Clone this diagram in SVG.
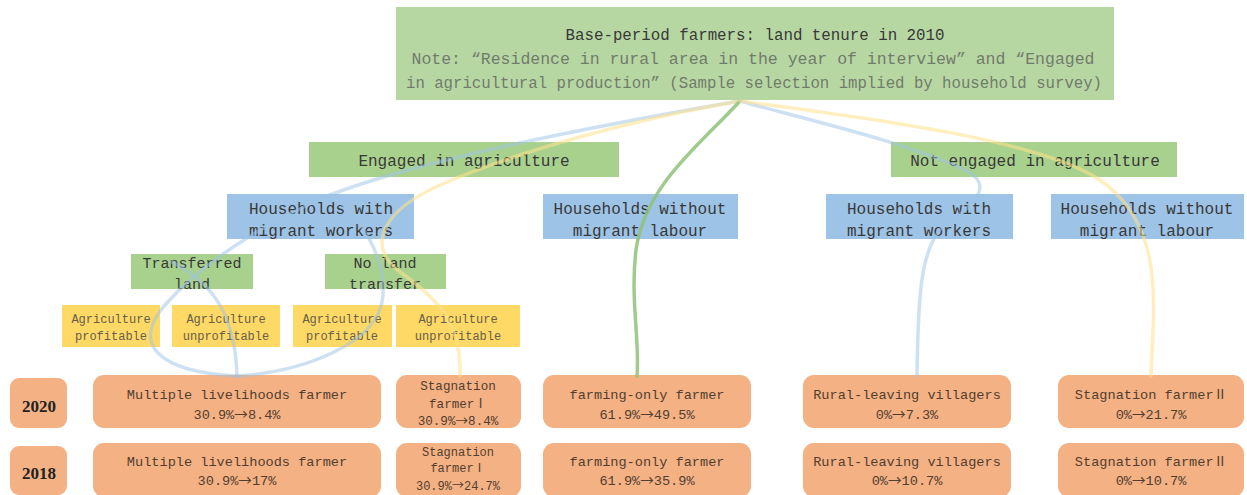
<svg xmlns="http://www.w3.org/2000/svg" width="1247" height="495" viewBox="0 0 1247 495">
<style>
text{font-family:'Liberation Mono','Noto Sans CJK SC',monospace;text-anchor:middle;fill:#383838}
.g0{fill:#b7d7a2}
.g{fill:#a9d18e}
.b{fill:#9dc3e6}
.y{fill:#ffd966}
.o{fill:#f4b183}
.f16{font-size:16px}
.f15{font-size:15px}
.f12{font-size:12px;fill:#66604a}
.f14{font-size:13.6px;fill:#523e30}
.f13{font-size:12.6px;fill:#523e30}
.f11{font-size:12px;fill:#523e30}
.ar{font-family:'Noto Sans CJK SC',sans-serif}
.note{font-size:16px;fill:#717b6c}
.yr{font-family:'Liberation Serif',serif;font-size:17px;font-weight:bold;fill:#222}
.c{fill:none;stroke-linecap:round}
.cb{stroke:#9dc3e6;stroke-width:3.5;opacity:.5}
.cy{stroke:#ffe28a;stroke-width:3.5;opacity:.55}
.cg{stroke:#8fc27a;stroke-width:3.5;opacity:.85}
</style>
<rect width="1247" height="495" fill="#ffffff"/>
<g id="root">
<rect class="g0" x="396" y="7" width="718" height="93"/>
<text class="f16" x="755" y="40" textLength="379" lengthAdjust="spacingAndGlyphs">Base-period farmers: land tenure in 2010</text>
<text class="note" x="753" y="64" textLength="683" lengthAdjust="spacingAndGlyphs">Note: “Residence in rural area in the year of interview” and “Engaged</text>
<text class="note" x="754" y="88" textLength="696" lengthAdjust="spacingAndGlyphs">in agricultural production” (Sample selection implied by household survey)</text>
</g>
<g id="engaged">
<rect class="g" x="309" y="142" width="310" height="35"/>
<text class="f16" x="464" y="166">Engaged in agriculture</text>
</g>
<g id="not-engaged">
<rect class="g" x="891" y="142" width="286" height="35"/>
<text class="f16" x="1035" y="166">Not engaged in agriculture</text>
</g>
<g id="hh-with-1">
<rect class="b" x="227" y="194" width="187" height="45"/>
<text class="f16" x="321" y="214">Households with</text>
<text class="f16" x="321" y="236">migrant workers</text>
</g>
<g id="hh-without-1">
<rect class="b" x="543" y="194" width="195" height="45"/>
<text class="f16" x="640" y="214">Households without</text>
<text class="f16" x="640" y="236">migrant labour</text>
</g>
<g id="hh-with-2">
<rect class="b" x="826" y="194" width="187" height="45"/>
<text class="f16" x="919" y="214">Households with</text>
<text class="f16" x="919" y="236">migrant workers</text>
</g>
<g id="hh-without-2">
<rect class="b" x="1051" y="194" width="193" height="45"/>
<text class="f16" x="1147" y="214">Households without</text>
<text class="f16" x="1147" y="236">migrant labour</text>
</g>
<g id="transferred">
<rect class="g" x="131" y="254" width="122" height="35"/>
<text class="f15" x="192" y="268">Transferred</text>
<text class="f15" x="192" y="289">land</text>
</g>
<g id="no-transfer">
<rect class="g" x="325" y="254" width="121" height="35"/>
<text class="f15" x="385" y="268">No land</text>
<text class="f15" x="385" y="289">transfer</text>
</g>
<g id="ap1">
<rect class="y" x="62" y="305" width="98" height="42"/>
<text class="f12" x="111" y="323">Agriculture</text>
<text class="f12" x="111" y="340">profitable</text>
</g>
<g id="au1">
<rect class="y" x="172" y="305" width="108" height="42"/>
<text class="f12" x="226" y="323">Agriculture</text>
<text class="f12" x="226" y="340">unprofitable</text>
</g>
<g id="ap2">
<rect class="y" x="293" y="305" width="99" height="42"/>
<text class="f12" x="342" y="323">Agriculture</text>
<text class="f12" x="342" y="340">profitable</text>
</g>
<g id="au2">
<rect class="y" x="396" y="305" width="124" height="42"/>
<text class="f12" x="458" y="323">Agriculture</text>
<text class="f12" x="458" y="340">unprofitable</text>
</g>
<g id="y2020">
<rect class="o" x="10" y="378" width="57" height="50" rx="9"/>
<text class="yr" x="39" y="412">2020</text>
</g>
<g id="y2018">
<rect class="o" x="10" y="446" width="57" height="49" rx="9"/>
<text class="yr" x="39" y="479">2018</text>
</g>
<g id="multi-2020">
<rect class="o" x="93" y="375" width="288" height="53" rx="11"/>
<text class="f14" x="237" y="399">Multiple livelihoods farmer</text>
<text class="f14" x="237" y="419">30.9%<tspan class="ar">→</tspan>8.4%</text>
</g>
<g id="stag1-2020">
<rect class="o" x="396" y="375" width="125" height="53" rx="11"/>
<text class="f13" x="458" y="390">Stagnation</text>
<text class="f13" x="458" y="408">farmerⅠ</text>
<text class="f13" x="458" y="425">30.9%<tspan class="ar">→</tspan>8.4%</text>
</g>
<g id="farm-2020">
<rect class="o" x="543" y="375" width="208" height="53" rx="11"/>
<text class="f14" x="647" y="399">farming-only farmer</text>
<text class="f14" x="647" y="419">61.9%<tspan class="ar">→</tspan>49.5%</text>
</g>
<g id="rural-2020">
<rect class="o" x="803" y="375" width="208" height="53" rx="11"/>
<text class="f14" x="907" y="399">Rural-leaving villagers</text>
<text class="f14" x="907" y="419">0%<tspan class="ar">→</tspan>7.3%</text>
</g>
<g id="stag2-2020">
<rect class="o" x="1058" y="375" width="186" height="53" rx="11"/>
<text class="f14" x="1151" y="399">Stagnation farmerⅡ</text>
<text class="f14" x="1151" y="419">0%<tspan class="ar">→</tspan>21.7%</text>
</g>
<g id="multi-2018">
<rect class="o" x="93" y="443" width="288" height="54" rx="11"/>
<text class="f14" x="237" y="466">Multiple livelihoods farmer</text>
<text class="f14" x="237" y="485">30.9%<tspan class="ar">→</tspan>17%</text>
</g>
<g id="stag1-2018">
<rect class="o" x="396" y="443" width="125" height="54" rx="11"/>
<text class="f11" x="458" y="456">Stagnation</text>
<text class="f11" x="458" y="472">farmerⅠ</text>
<text class="f11" x="458" y="490">30.9%<tspan class="ar">→</tspan>24.7%</text>
</g>
<g id="farm-2018">
<rect class="o" x="543" y="443" width="208" height="54" rx="11"/>
<text class="f14" x="647" y="466">farming-only farmer</text>
<text class="f14" x="647" y="485">61.9%<tspan class="ar">→</tspan>35.9%</text>
</g>
<g id="rural-2018">
<rect class="o" x="803" y="443" width="208" height="54" rx="11"/>
<text class="f14" x="907" y="466">Rural-leaving villagers</text>
<text class="f14" x="907" y="485">0%<tspan class="ar">→</tspan>10.7%</text>
</g>
<g id="stag2-2018">
<rect class="o" x="1058" y="443" width="186" height="54" rx="11"/>
<text class="f14" x="1151" y="466">Stagnation farmerⅡ</text>
<text class="f14" x="1151" y="485">0%<tspan class="ar">→</tspan>10.7%</text>
</g>
<g id="connectors">
<path class="c cb" d="M740,101 C600,125 420,160 330,195 C260,225 200,265 165,305 C130,345 160,372 237,376"/>
<path class="c cb" d="M330,195 C360,215 385,255 383,295 C380,345 300,372 237,376"/>
<path class="c cb" d="M172,262 C205,280 235,305 237,376"/>
<path class="c cy" d="M740,101 C640,118 520,150 440,185 C380,212 370,245 395,268 C430,295 462,315 460,376"/>
<path class="c cg" d="M740,101 C700,145 645,185 636,250 C630,300 640,340 637,376"/>
<path class="c cb" d="M740,101 C800,118 900,140 965,170 C995,185 975,205 945,225 C920,245 918,300 917,376"/>
<path class="c cy" d="M740,101 C870,118 1040,140 1100,180 C1150,215 1156,270 1153,330 L1151,376"/>
</g>
</svg>
